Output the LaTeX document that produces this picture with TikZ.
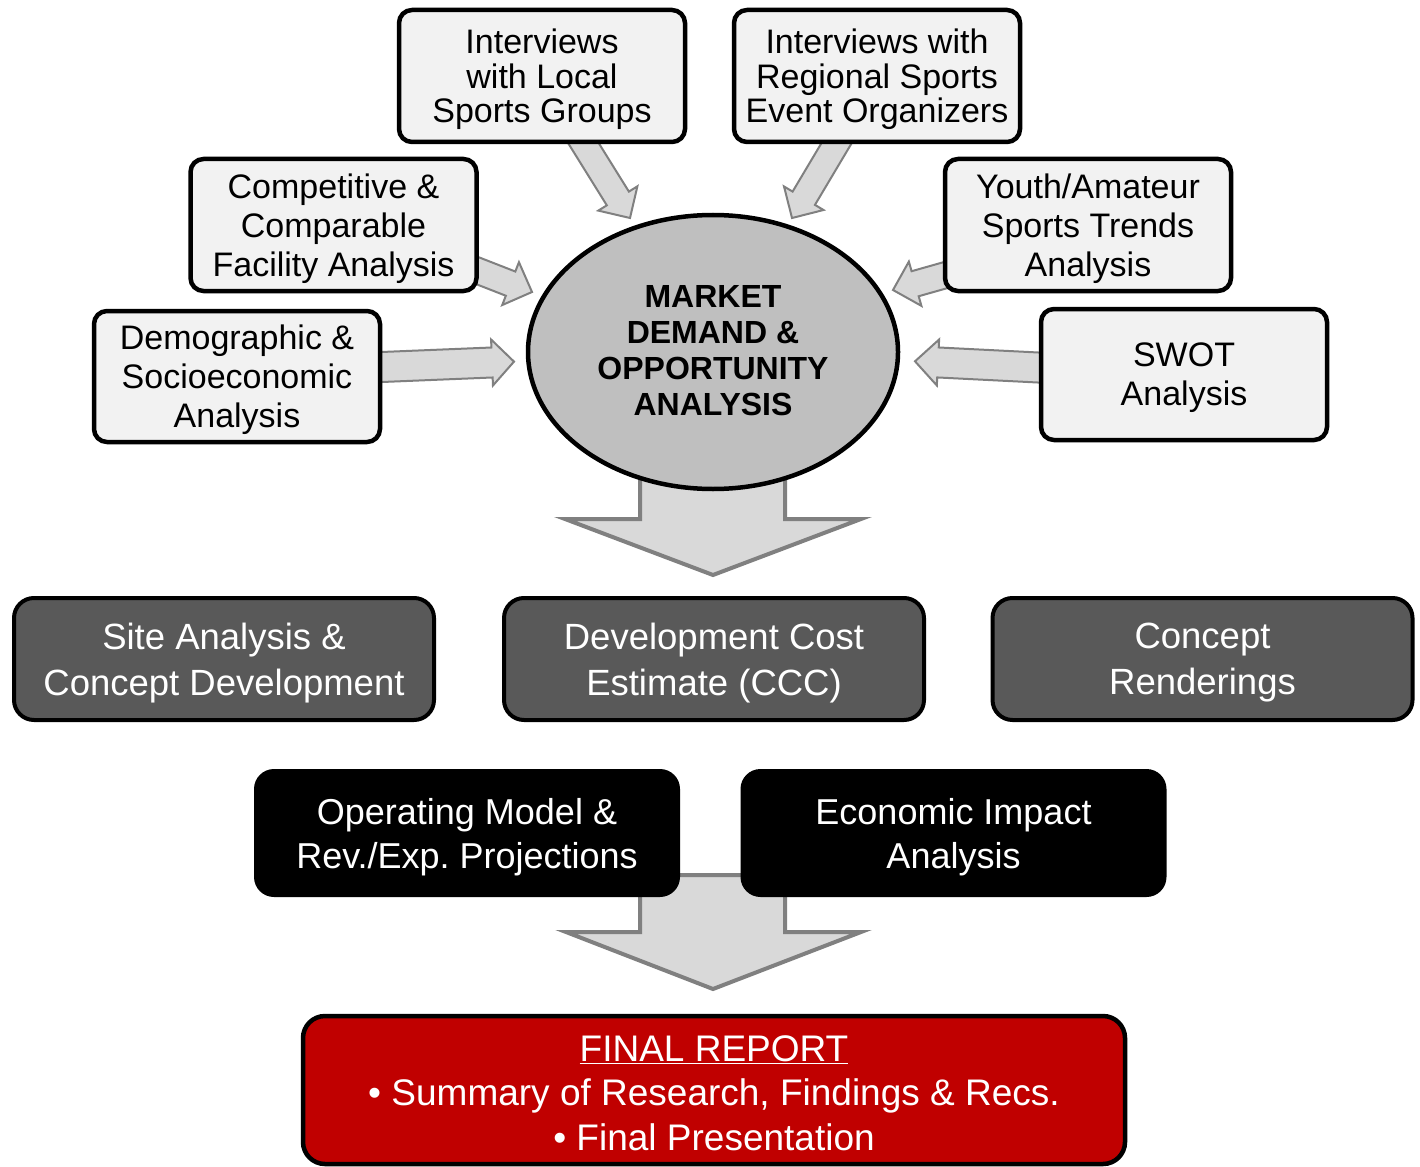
\documentclass[tikz,border=0pt]{standalone}
\usepackage{fontspec}
\setmainfont{Liberation Sans}
\usetikzlibrary{calc,shapes.geometric,backgrounds}
\definecolor{boxfill}{HTML}{F2F2F2}
\definecolor{ellfill}{HTML}{BFBFBF}
\definecolor{arrfill}{HTML}{D9D9D9}
\definecolor{arrline}{HTML}{808080}
\definecolor{midgray}{HTML}{595959}
\definecolor{repred}{HTML}{C00000}
\frenchspacing
\newcommand\blockarr[5]{%
  \coordinate (hb) at ($(#2)!#5!(#1)$);
  \filldraw[smallarrow] ($(#1)!#3!90:(#2)$) -- ($(hb)!#3!-90:(#1)$) -- ($(hb)!#4!-90:(#1)$) -- (#2) -- ($(hb)!#4!90:(#1)$) -- ($(hb)!#3!90:(#1)$) -- ($(#1)!#3!-90:(#2)$) -- cycle;
}
\tikzset{
  lightbox/.style={draw=black, line width=4.5pt, fill=boxfill, rounded corners=13pt,
    minimum width=286pt, minimum height=132pt, inner sep=0pt, align=center,
    text depth=0pt, font=\fontsize{34}{39}\selectfont},
  tightlines/.style={font=\fontsize{34}{34.5}\selectfont},
  graybox/.style={draw=black, line width=4pt, fill=midgray, rounded corners=20pt,
    minimum width=420pt, minimum height=122pt, inner sep=0pt, align=center, text=white,
    text depth=0pt, font=\fontsize{36.5}{46}\selectfont},
  blackbox/.style={fill=black, rounded corners=20pt,
    minimum width=426pt, minimum height=128pt, inner sep=0pt, align=center, text=white,
    text depth=0pt, font=\fontsize{36}{44}\selectfont},
  smallarrow/.style={fill=arrfill, draw=arrline, line width=2pt, line join=miter},
  bigarrow/.style={fill=arrfill, draw=arrline, line width=4pt, line join=miter},
}
\begin{document}
\begin{tikzpicture}[x=1pt,y=-1pt]
\useasboundingbox (0,0) rectangle (1420,1166);
\clip (0,0) rectangle (1420,1166);

% top inputs
\node[lightbox, tightlines] (b1) at (542,76) {Interviews\\with Local\\Sports Groups};
\node[lightbox, tightlines] (b2) at (877,76) {Interviews with\\Regional Sports\\Event Organizers};
\node[lightbox] (b3) at (333.5,225) {Competitive \&\\Comparable\\Facility Analysis};
\node[lightbox] (b4) at (1088,225) {Youth/Amateur\\Sports Trends\\Analysis};
\node[lightbox, minimum height=131pt] (b5) at (237,376.5) {Demographic \&\\Socioeconomic\\Analysis};
\node[lightbox, minimum height=131pt] (b6) at (1184,374.5) {SWOT\\Analysis};

% center ellipse
\node[ellipse, draw=black, line width=4.5pt, fill=ellfill, minimum width=370pt,
  minimum height=274pt, inner sep=0pt, align=center,
  font=\fontsize{32}{36}\selectfont\bfseries] (ell) at (713,352)
  {MARKET\\DEMAND \&\\OPPORTUNITY\\ANALYSIS\vspace{3pt}};

% middle row
\node[graybox] (g1) at (224,659) {Site Analysis \&\\Concept Development};
\node[graybox] (g2) at (714,659) {Development Cost\\Estimate (CCC)};
\node[graybox] (g3) at (1202.5,659) {Concept\\Renderings};

% black row
\node[blackbox] (k1) at (467,833) {Operating Model \&\\Rev./Exp. Projections};
\node[blackbox] (k2) at (953.5,833) {Economic Impact\\Analysis};

% final report
\node[draw=black, line width=4.5pt, fill=repred, rounded corners=22pt,
  minimum width=822pt, minimum height=148pt, inner sep=0pt] (rep) at (714,1090) {};
\node[align=center, text=white, inner sep=0pt, text depth=0pt,
  font=\fontsize{37}{44.5}\selectfont] (reptxt) at (714,1093)
  {\underline{FINAL REPORT}\\• Summary of Research, Findings \& Recs.\\• Final Presentation};

\begin{pgfonlayer}{background}
  \fill[white] (0,0) rectangle (1420,1166);
  % small block arrows into the ellipse
  \coordinate (t1) at (579,136);  \coordinate (p1) at (630,218);
  \coordinate (t2) at (842,134);  \coordinate (p2) at (792,218);
  \coordinate (t3) at (468,267);  \coordinate (p3) at (532,292);
  \coordinate (t4) at (953,273);  \coordinate (p4) at (893,290);
  \coordinate (t5) at (372,367.4); \coordinate (p5) at (514,361.6);
  \coordinate (t6) at (1048,368); \coordinate (p6) at (915,361.3);
  \blockarr{t1}{p1}{13pt}{23pt}{23pt}
  \blockarr{t2}{p2}{13pt}{23pt}{23pt}
  \blockarr{t3}{p3}{13pt}{23pt}{23pt}
  \blockarr{t4}{p4}{13pt}{23pt}{23pt}
  \blockarr{t5}{p5}{15pt}{23pt}{22pt}
  \blockarr{t6}{p6}{15pt}{23pt}{23pt}
  % big down arrows
  \filldraw[bigarrow] (640,432) coordinate (ba1) -- (640,519) -- (565,519)
    -- (713,575) coordinate (bt1) -- (861,519) -- (785,519) -- (785,432) -- cycle;
  \filldraw[bigarrow] (640,875) coordinate (ba2) -- (640,932) -- (566,932)
    -- (713,989) coordinate (bt2) -- (861,932) -- (785,932) -- (785,875) -- cycle;
\end{pgfonlayer}
\end{tikzpicture}
\end{document}
